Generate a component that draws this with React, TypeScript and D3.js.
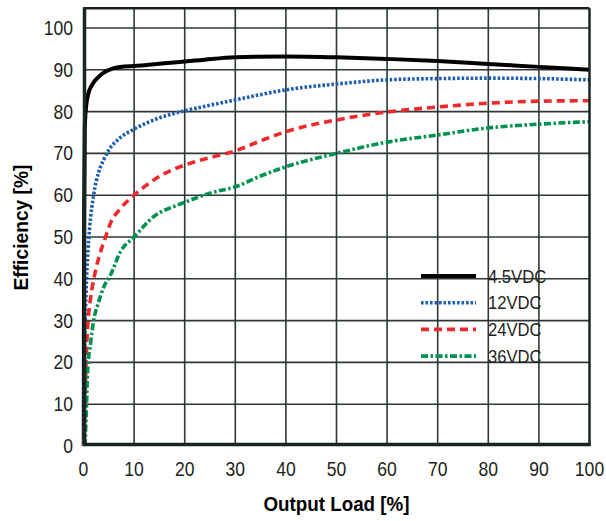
import React from "react";
import * as d3 from "d3";

const xTicks = [0, 10, 20, 30, 40, 50, 60, 70, 80, 90, 100];
const yTicks = [0, 10, 20, 30, 40, 50, 60, 70, 80, 90, 100];

const v45: [number, number][] = [
  [0.05, 0], [0.12, 55], [0.25, 76], [0.5, 81], [1, 84.5], [1.5, 86], [2, 87], [3, 88.3],
  [4, 89.3], [6, 90.4], [8, 90.8], [10, 90.9], [12, 91.1], [16.5, 91.6], [20, 92],
  [23, 92.3], [30, 93], [40, 93.2], [50, 93], [60, 92.6], [70, 92.1], [80, 91.4],
  [90, 90.7], [100, 90],
];
const v12: [number, number][] = [
  [0.1, 0], [0.2, 20], [0.35, 30], [0.6, 40], [0.9, 47], [1.2, 52], [2, 60], [3, 65.5],
  [4, 68.5], [5, 70.8], [7, 73.5], [10, 75.8], [15, 78.5], [20, 80.2], [23, 81],
  [30, 82.8], [40, 85.2], [50, 86.6], [60, 87.6], [70, 87.9], [80, 88], [90, 87.9],
  [100, 87.6],
];
const v24: [number, number][] = [
  [0.15, 0], [0.3, 10], [0.5, 20], [0.8, 28], [1.4, 35.4], [1.8, 38.5], [2.4, 42.1],
  [3.3, 46.2], [4.3, 49.8], [5.3, 53.2], [7.3, 56.8], [9.5, 59.5], [12, 62], [15, 64.5],
  [20, 67.2], [25, 69], [30, 70.6], [35, 73], [40, 75.2], [50, 78], [60, 79.9],
  [70, 81.1], [80, 82], [90, 82.5], [100, 82.6],
];
const v36: [number, number][] = [
  [0.3, 0], [0.6, 10], [0.8, 17.5], [1.4, 24.6], [2, 30], [3, 34.5], [4, 38], [5.3, 40.8],
  [7.3, 46.5], [10, 50], [13.8, 54.8], [18.7, 57.7], [20, 58.3], [25, 60.5], [30, 62],
  [35, 64.6], [40, 66.8], [50, 70], [60, 72.7], [70, 74.4], [80, 76.1], [90, 77],
  [100, 77.6],
];

const seriesNames = ["4.5VDC", "12VDC", "24VDC", "36VDC"];
const seriesData = [v45, v12, v24, v36];
const seriesColors = ["#000000", "#1f5fad", "#ee2a2e", "#00924e"];
const seriesDash = ["none", "2.6 1.9", "8 5", "7 2.5 2.5 2.5"];
const seriesWidth = [4, 3.6, 3.6, 3.6];

const FONT = "'Liberation Sans', Arial, sans-serif";

export default function App() {
  const W = 606, H = 521;
  const x = d3.scaleLinear().domain([0, 100]).range([83.5, 589.5]);
  const y = d3.scaleLinear().domain([0, 100]).range([446, 28]);
  const yTop = y(104.7);
  const line = d3
    .line<[number, number]>()
    .x((d) => x(d[0]))
    .y((d) => y(d[1]))
    .curve(d3.curveMonotoneX);

  const legX0 = 421, legX1 = 476, legY0 = 276, legDy = 26.7;
  const sx = 0.9;

  return (
    <svg width={W} height={H} style={{ position: "absolute", left: 0, top: 0 }}>
      <rect width={W} height={H} fill="#fff" />
      {/* grid */}
      {xTicks.slice(1, -1).map((t) => (
        <line key={"gx" + t} x1={x(t)} x2={x(t)} y1={yTop} y2={y(0)} stroke="#2e3836" strokeWidth={1.6} />
      ))}
      {yTicks.slice(1).map((t) => (
        <line key={"gy" + t} x1={x(0)} x2={x(100)} y1={y(t)} y2={y(t)} stroke="#2e3836" strokeWidth={1.6} />
      ))}
      {/* curves */}
      {seriesData.map((d, i) => (
        <path
          key={seriesNames[i]}
          d={line(d) || ""}
          fill="none"
          stroke={seriesColors[i]}
          strokeWidth={seriesWidth[i]}
          strokeDasharray={seriesDash[i]}
        />
      ))}
      {/* frame */}
      <line x1={x(0)} x2={x(100)} y1={yTop} y2={yTop} stroke="#1a2422" strokeWidth={2.5} />
      <line x1={x(100)} x2={x(100)} y1={yTop} y2={y(0)} stroke="#1a2422" strokeWidth={2.5} />
      <line x1={x(0) + 1} x2={x(0) + 1} y1={yTop - 1} y2={y(0)} stroke="#1a2422" strokeWidth={3.5} />
      <line x1={x(0) - 0.5} x2={x(100) + 1} y1={y(0) - 1.5} y2={y(0) - 1.5} stroke="#1a2422" strokeWidth={3.5} />
      {/* y tick labels */}
      {yTicks.map((t) => (
        <text
          key={"ty" + t}
          transform={`translate(73, ${y(t) + 7}) scale(${sx}, 1)`}
          textAnchor="end"
          fontFamily={FONT}
          fontSize={19.5}
          fill="#231f20"
        >
          {t}
        </text>
      ))}
      {/* x tick labels */}
      {xTicks.map((t) => (
        <text
          key={"tx" + t}
          transform={`translate(${x(t)}, 476) scale(${sx}, 1)`}
          textAnchor="middle"
          fontFamily={FONT}
          fontSize={19.5}
          fill="#231f20"
        >
          {t}
        </text>
      ))}
      {/* axis titles */}
      <text
        x={x(50)}
        y={511}
        textAnchor="middle"
        fontFamily={FONT}
        fontSize={21}
        fontWeight="bold"
        fill="#000"
        textLength={146}
        lengthAdjust="spacingAndGlyphs"
      >
        Output Load [%]
      </text>
      <text
        transform={`translate(28, 227.5) rotate(-90)`}
        textAnchor="middle"
        fontFamily={FONT}
        fontSize={20}
        fontWeight="bold"
        fill="#000"
        textLength={126}
        lengthAdjust="spacingAndGlyphs"
      >
        Efficiency [%]
      </text>
      {/* legend */}
      {seriesNames.map((n, i) => (
        <g key={"leg" + n}>
          <line
            x1={legX0}
            x2={legX1}
            y1={legY0 + i * legDy}
            y2={legY0 + i * legDy}
            stroke={seriesColors[i]}
            strokeWidth={seriesWidth[i]}
            strokeDasharray={seriesDash[i]}
          />
          <text
            transform={`translate(488, ${legY0 + i * legDy + 6.5}) scale(${sx}, 1)`}
            fontFamily={FONT}
            fontSize={18.5}
            fill="#231f20"
          >
            {n}
          </text>
        </g>
      ))}
    </svg>
  );
}
